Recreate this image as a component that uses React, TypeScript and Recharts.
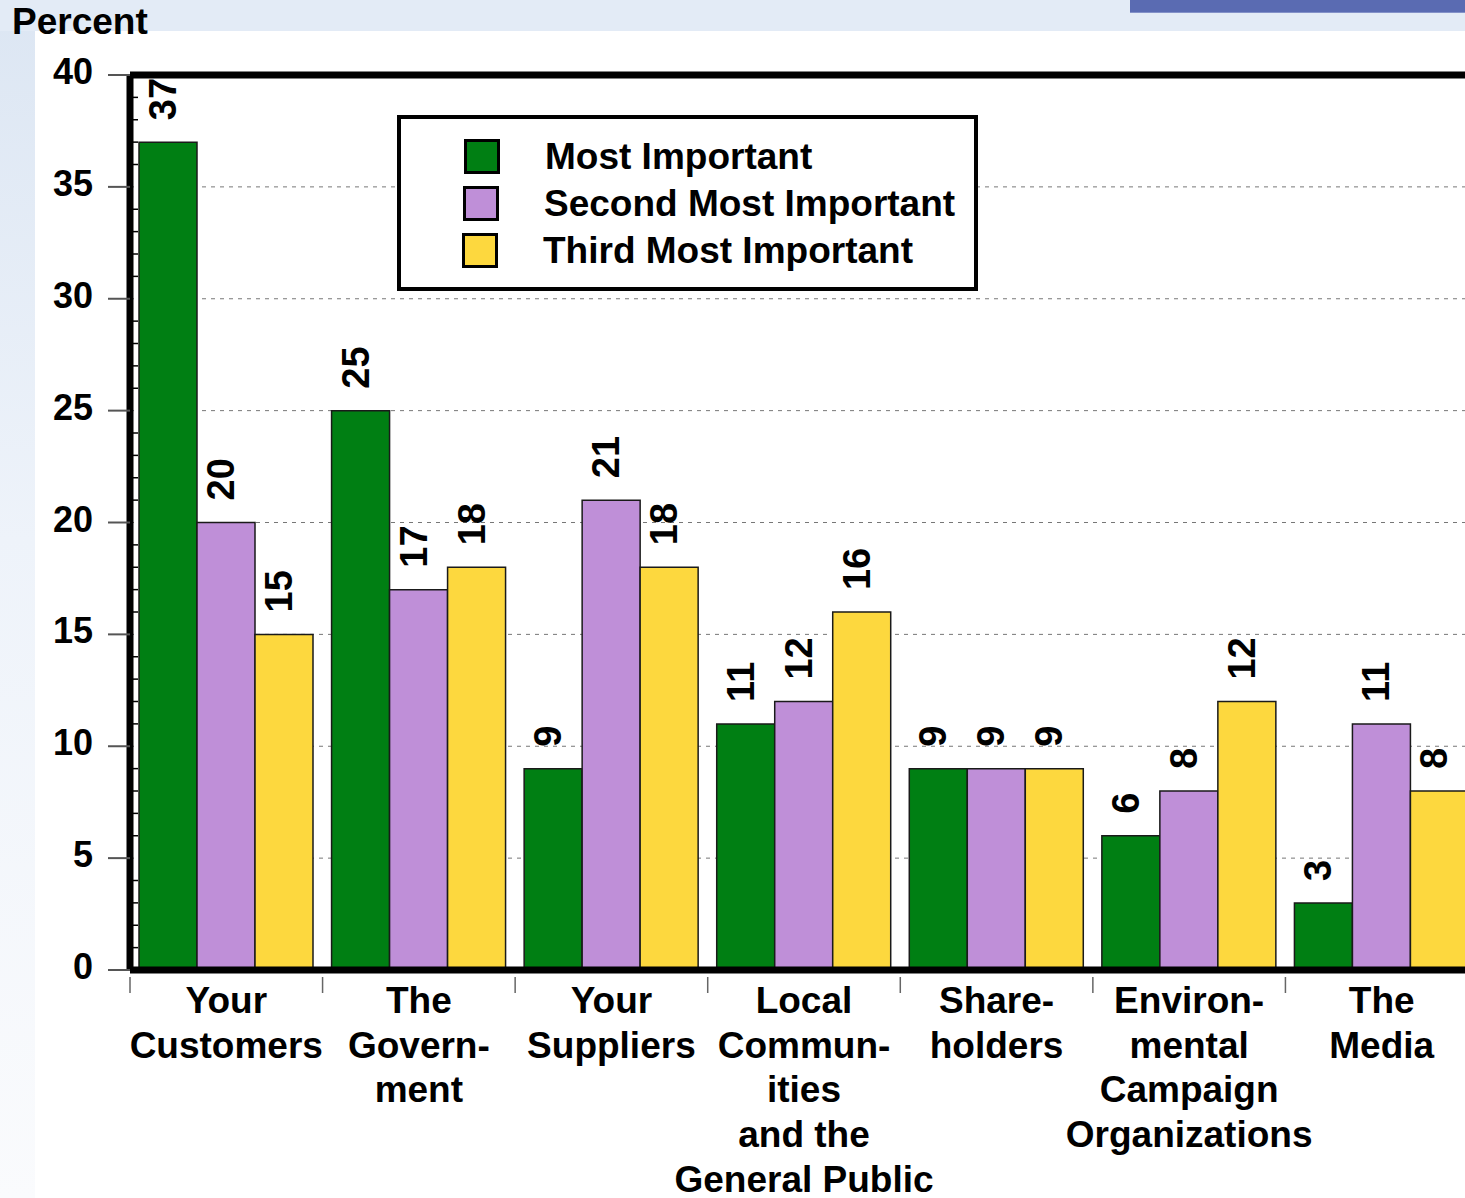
import {
  BarChart,
  Bar,
  XAxis,
  YAxis,
  CartesianGrid,
  ReferenceLine,
  Legend,
  LabelList,
} from "recharts";

const FONT = "'Liberation Sans', Arial, Helvetica, sans-serif";

const categories = [
  "Your Customers",
  "The Government",
  "Your Suppliers",
  "Local Communities and the General Public",
  "Shareholders",
  "Environmental Campaign Organizations",
  "The Media",
];

// tick label lines, as broken on the original slide
const categoryLines = [
  ["Your", "Customers"],
  ["The", "Govern-", "ment"],
  ["Your", "Suppliers"],
  ["Local", "Commun-", "ities", "and the", "General Public"],
  ["Share-", "holders"],
  ["Environ-", "mental", "Campaign", "Organizations"],
  ["The", "Media"],
];

const mostImportant = [37, 25, 9, 11, 9, 6, 3];
const secondMost = [20, 17, 21, 12, 9, 8, 11];
const thirdMost = [15, 18, 18, 16, 9, 12, 8];

const yTicks = [
  0, 1, 2, 3, 4, 5, 6, 7, 8, 9, 10, 11, 12, 13, 14, 15, 16, 17, 18, 19, 20,
  21, 22, 23, 24, 25, 26, 27, 28, 29, 30, 31, 32, 33, 34, 35, 36, 37, 38, 39, 40,
];
const gridValues = [5, 10, 15, 20, 25, 30, 35];

const GREEN = "#007f13";
const PURPLE = "#bf8fd8";
const YELLOW = "#fdd83e";

const CHART_W = 1478;
const CHART_H = 1198;
const AXIS_W = 130;
const BAND = (CHART_W - AXIS_W) / categories.length;

const data = categories.map((name, i) => ({
  name,
  most: mostImportant[i],
  second: secondMost[i],
  third: thirdMost[i],
}));

const YTick = (props: any) => {
  const { x, y, payload } = props;
  const v = payload.value;
  if (v % 5 === 0) {
    return (
      <g>
        <line x1={108} x2={x} y1={y} y2={y} stroke="#555" strokeWidth={2} />
        <text
          x={93}
          y={y + 9}
          textAnchor="end"
          fontFamily={FONT}
          fontWeight="bold"
          fontSize={36}
          fill="#000"
        >
          {v}
        </text>
      </g>
    );
  }
  return <line x1={x + 3} x2={x + 8} y1={y} y2={y} stroke="#000" strokeWidth={1.5} />;
};

const XTick = (props: any) => {
  const { x, y, index } = props;
  const lines = categoryLines[index] || [];
  const left = x - BAND / 2;
  return (
    <g>
      <line x1={left} x2={left} y1={y + 7} y2={y + 23} stroke="#666" strokeWidth={1.5} />
      {lines.map((t, i) => (
        <text
          key={t}
          x={x}
          y={y + 43 + i * 44.7}
          textAnchor="middle"
          fontFamily={FONT}
          fontWeight="bold"
          fontSize={37}
          fill="#000"
        >
          {t}
        </text>
      ))}
    </g>
  );
};

const ValueLabel = (props: any) => {
  const { x, y, width, value } = props;
  const bx = Number(x) + Number(width) / 2 + 8;
  const by = Number(y) - 22;
  return (
    <text
      x={bx}
      y={by}
      transform={`rotate(-90 ${bx} ${by})`}
      textAnchor="start"
      fontFamily={FONT}
      fontWeight="bold"
      fontSize={38}
      fill="#000"
    >
      {value}
    </text>
  );
};

const LegendBox = (props: any) => {
  const payload = props.payload || [];
  return (
    <div
      style={{
        boxSizing: "border-box",
        width: 581,
        height: 176,
        border: "4px solid #000",
        background: "#fff",
        position: "relative",
      }}
    >
      {payload.map((entry: any, i: number) => (
        <div
          key={entry.value}
          style={{
            position: "absolute",
            left: 63 - i,
            top: 20 + i * 47,
            display: "flex",
            alignItems: "center",
          }}
        >
          <span
            style={{
              display: "inline-block",
              boxSizing: "border-box",
              width: 36,
              height: 35,
              border: "3px solid #000",
              background: entry.color,
            }}
          />
          <span
            style={{
              marginLeft: 45,
              fontFamily: FONT,
              fontWeight: "bold",
              fontSize: 37,
              lineHeight: "35px",
              color: "#000",
              whiteSpace: "nowrap",
            }}
          >
            {entry.value}
          </span>
        </div>
      ))}
    </div>
  );
};

export default function App() {
  return (
    <div
      style={{
        position: "absolute",
        left: 0,
        top: 0,
        width: 1465,
        height: 1198,
        overflow: "hidden",
        background: "linear-gradient(to bottom, #dce6f3 0%, #eef3fa 45%, #fafbfd 100%)",
      }}
    >
      {/* top strip and white slide panel */}
      <div
        style={{
          position: "absolute",
          left: 0,
          top: 0,
          width: 1465,
          height: 31,
          background: "#e3ebf6",
        }}
      />
      <div
        style={{
          position: "absolute",
          left: 1130,
          top: 0,
          width: 335,
          height: 12,
          background: "#5a6bb2",
          borderBottom: "1px solid #8391c8",
        }}
      />
      <div
        style={{
          position: "absolute",
          left: 35,
          top: 31,
          width: 1430,
          height: 1167,
          background: "#fff",
        }}
      />
      <div
        style={{
          position: "absolute",
          left: 12,
          top: 4,
          fontFamily: FONT,
          fontWeight: "bold",
          fontSize: 37,
          lineHeight: "36px",
          color: "#000",
        }}
      >
        Percent
      </div>
      <div style={{ position: "absolute", left: 0, top: 0 }}>
        <BarChart
          width={CHART_W}
          height={CHART_H}
          data={data}
          margin={{ top: 75, right: 0, left: 0, bottom: 0 }}
          barCategoryGap={9}
          barGap={0}
        >
          <CartesianGrid
            vertical={false}
            horizontalValues={gridValues}
            stroke="#777"
            strokeDasharray="4 5"
          />
          <XAxis
            dataKey="name"
            interval={0}
            tickLine={false}
            tickSize={0}
            tickMargin={0}
            axisLine={{ stroke: "#000", strokeWidth: 7 }}
            tick={<XTick />}
            height={228}
          />
          <YAxis
            domain={[0, 40]}
            ticks={yTicks}
            interval={0}
            width={AXIS_W}
            tickLine={false}
            tickSize={0}
            tickMargin={0}
            axisLine={{ stroke: "#000", strokeWidth: 7 }}
            tick={<YTick />}
          />
          <ReferenceLine y={40} stroke="#000" strokeWidth={7} />
          <Legend
            layout="vertical"
            align="center"
            verticalAlign="middle"
            wrapperStyle={{ left: 397, top: 115, width: 581, height: 176 }}
            content={<LegendBox />}
          />
          <Bar dataKey="most" name="Most Important" fill={GREEN} stroke="#1a1a1a" strokeWidth={1.5} isAnimationActive={false}>
            <LabelList dataKey="most" content={<ValueLabel />} />
          </Bar>
          <Bar dataKey="second" name="Second Most Important" fill={PURPLE} stroke="#1a1a1a" strokeWidth={1.5} isAnimationActive={false}>
            <LabelList dataKey="second" content={<ValueLabel />} />
          </Bar>
          <Bar dataKey="third" name="Third Most Important" fill={YELLOW} stroke="#1a1a1a" strokeWidth={1.5} isAnimationActive={false}>
            <LabelList dataKey="third" content={<ValueLabel />} />
          </Bar>
        </BarChart>
      </div>
    </div>
  );
}
